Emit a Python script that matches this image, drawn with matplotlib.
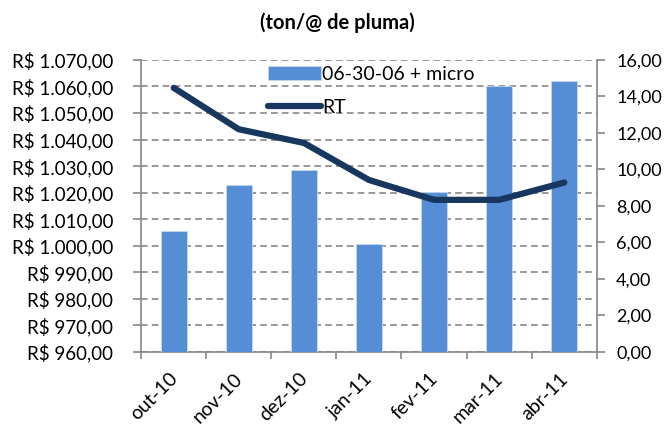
import numpy as np
import matplotlib.pyplot as plt
import matplotlib.transforms as mtransforms
from matplotlib.ticker import FuncFormatter, FixedLocator

months = ["out-10", "nov-10", "dez-10", "jan-11", "fev-11", "mar-11", "abr-11"]
price = [1005.6, 1022.9, 1028.6, 1000.5, 1020.2, 1060.2, 1062.1]
rt = [14.47, 12.2, 11.45, 9.42, 8.33, 8.33, 9.28]

plt.rcParams['font.family'] = ['Lato', 'DejaVu Sans']

def brl(v, pos=None):
    s = f"{v:,.2f}".replace(",", "X").replace(".", ",").replace("X", ".")
    return "R$ " + s

def dec(v, pos=None):
    return f"{v:.2f}".replace(".", ",")

fig = plt.figure(figsize=(6.69, 4.28), dpi=100)
ax = fig.add_axes([0.211, 0.178, 0.681, 0.682])
x = np.arange(len(months))

grey = "#868686"
ax.bar(x, price, width=0.4, color="#558ED5", edgecolor="#C6D9F1", linewidth=0.6,
       label="06-30-06 + micro", zorder=3)
ax.set_ylim(960, 1070)
ax.set_xlim(-0.5, len(months) - 0.5)
ax.set_yticks(np.arange(960, 1071, 10))
ax.yaxis.set_major_formatter(FuncFormatter(brl))
ax.yaxis.grid(True, linestyle=(0, (4, 2.5)), color=grey, linewidth=1.2, zorder=0)

ax.set_xticks(x)
ax.set_xticklabels(months, rotation=45, ha="right", rotation_mode="anchor")
ax.tick_params(axis="x", length=0, labelsize=14, pad=13)
# nudge the rotated month labels a little to the left, as in the original
shift = mtransforms.ScaledTranslation(-0.05, 0, fig.dpi_scale_trans)
for lbl in ax.get_xticklabels():
    lbl.set_transform(lbl.get_transform() + shift)
ax.xaxis.set_minor_locator(FixedLocator(np.arange(-0.5, len(months), 1)))
ax.tick_params(axis="x", which="minor", length=5, color=grey, width=1.2)
ax.tick_params(axis="y", length=6, color=grey, width=1.2, labelsize=13.5, pad=14)

for s in ["left", "bottom"]:
    ax.spines[s].set_color(grey)
    ax.spines[s].set_linewidth(1.2)
ax.spines["top"].set_visible(False)
ax.spines["right"].set_visible(False)

ax2 = ax.twinx()
ax2.plot(x, rt, color="#17375E", linewidth=4.5, label="RT", zorder=4,
         solid_capstyle="round")
ax2.set_ylim(0, 16)
ax2.set_yticks(np.arange(0, 16.1, 2))
ax2.yaxis.set_major_formatter(FuncFormatter(dec))
ax2.tick_params(axis="y", length=6, color=grey, width=1.2, labelsize=13, pad=8)
for s in ["left", "top", "bottom"]:
    ax2.spines[s].set_visible(False)
ax2.spines["right"].set_color(grey)
ax2.spines["right"].set_linewidth(1.2)

h1, l1 = ax.get_legend_handles_labels()
h2, l2 = ax2.get_legend_handles_labels()
ax2.legend(h1 + h2, l1 + l2, loc="upper left", bbox_to_anchor=(0.24, 1.04),
           frameon=False, fontsize=14, handlelength=2.7, handletextpad=0.1,
           labelspacing=0.85)

fig.text(0.504, 0.946, "(ton/@ de pluma)", ha="center", va="center",
         fontsize=14.5, fontweight="bold")

fig.savefig("out.png", dpi=100)
